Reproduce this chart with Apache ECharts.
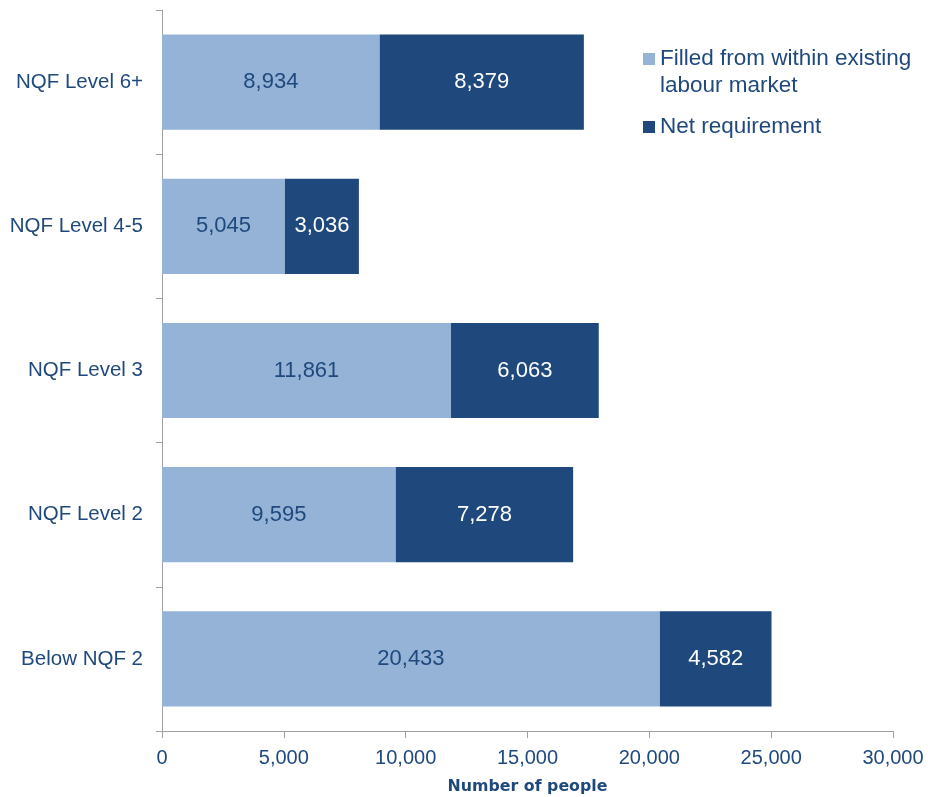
<!DOCTYPE html>
<html>
<head>
<meta charset="utf-8">
<script src="https://cdn.jsdelivr.net/npm/echarts@6/dist/echarts.min.js"></script>
<style>
  html, body { margin: 0; padding: 0; background: #fff; }
  #chart { width: 928px; height: 797px; }
</style>
</head>
<body>
<div id="chart"></div>
<script>
// Qualification levels, listed bottom to top as drawn on the category axis
const categories = ['Below NQF 2', 'NQF Level 2', 'NQF Level 3', 'NQF Level 4-5', 'NQF Level 6+'];
const filledWithin = [20433, 9595, 11861, 5045, 8934];
const netRequirement = [4582, 7278, 6063, 3036, 8379];
const xTicks = { min: 0, max: 30000, interval: 5000 };

const seriesNames = ['Filled from within existing labour market', 'Net requirement'];
const textBlue = '#1F497D';
const lightBlue = '#95B3D7';
const darkBlue = '#1F497D';
const axisGrey = '#A0A0A0';
const font = 'Liberation Sans, Arial, sans-serif';

const fmt = v => v.toLocaleString('en-US');

const chart = echarts.init(document.getElementById('chart'), null, { renderer: 'canvas' });

chart.setOption({
  animation: false,
  backgroundColor: '#ffffff',
  textStyle: { fontFamily: font },
  grid: { left: 162, right: 35, top: 10, bottom: 66, containLabel: false, outerBoundsMode: 'none' },
  legend: [
    {
      // leading blank line keeps the swatch level with the first text line
      data: [seriesNames[0]],
      orient: 'vertical',
      left: 643,
      top: 18.5,
      padding: 0,
      itemWidth: 12,
      itemHeight: 12,
      icon: 'rect',
      formatter: () => ' \nFilled from within existing\nlabour market',
      textStyle: { fontSize: 22.5, lineHeight: 27, color: textBlue, fontFamily: font }
    },
    {
      data: [seriesNames[1]],
      orient: 'vertical',
      left: 643,
      top: 113.5,
      padding: 0,
      itemWidth: 12,
      itemHeight: 12,
      icon: 'rect',
      textStyle: { fontSize: 22.5, lineHeight: 27, color: textBlue, fontFamily: font }
    }
  ],
  xAxis: {
    type: 'value',
    min: xTicks.min,
    max: xTicks.max,
    interval: xTicks.interval,
    name: 'Number of people',
    nameLocation: 'middle',
    nameGap: 48,
    nameTextStyle: { fontSize: 15.8, fontWeight: 'bold', color: textBlue, fontFamily: 'DejaVu Sans, sans-serif' },
    axisLine: { show: true, lineStyle: { color: axisGrey, width: 1 } },
    axisTick: { show: true, length: 7, lineStyle: { color: axisGrey } },
    axisLabel: { fontSize: 20, color: textBlue, margin: 17, formatter: v => fmt(v) },
    splitLine: { show: false }
  },
  yAxis: {
    type: 'category',
    data: categories,
    axisLine: { show: true, lineStyle: { color: axisGrey, width: 1 } },
    axisTick: { show: true, length: 6, inside: false, lineStyle: { color: axisGrey } },
    axisLabel: { fontSize: 20.5, color: textBlue, margin: 19 },
    splitLine: { show: false }
  },
  series: [
    {
      name: seriesNames[0],
      type: 'bar',
      stack: 'total',
      barCategoryGap: '34%',
      data: filledWithin,
      itemStyle: { color: lightBlue },
      label: { show: true, position: 'inside', fontSize: 22, color: textBlue, formatter: p => fmt(p.value) }
    },
    {
      name: seriesNames[1],
      type: 'bar',
      stack: 'total',
      barCategoryGap: '34%',
      data: netRequirement,
      itemStyle: { color: darkBlue },
      label: { show: true, position: 'inside', fontSize: 22, color: '#ffffff', formatter: p => fmt(p.value) }
    }
  ]
});
</script>
</body>
</html>
